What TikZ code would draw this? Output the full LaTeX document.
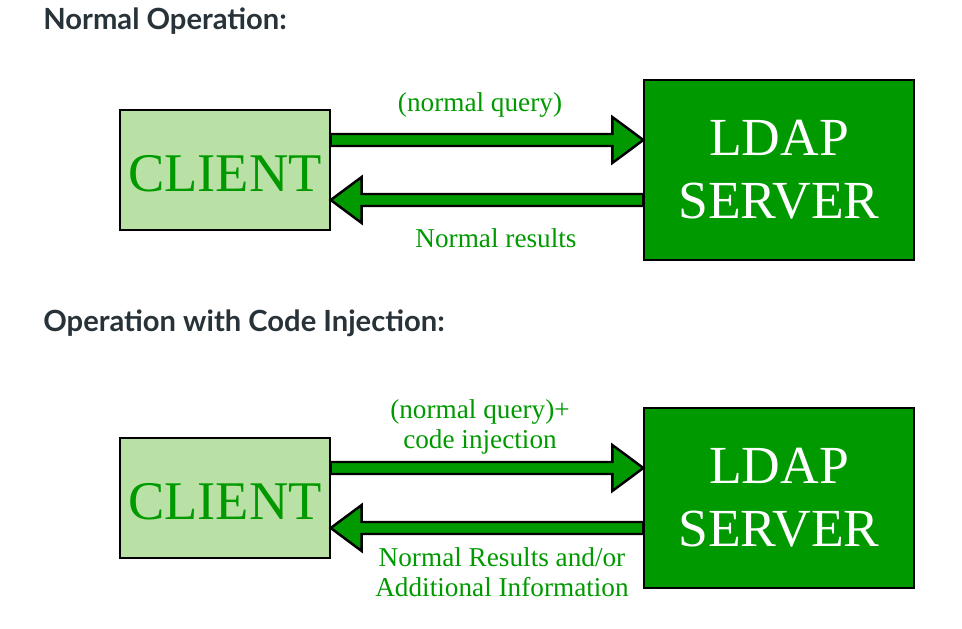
\documentclass[tikz,border=0pt]{standalone}
\usepackage{fontspec}
\setmainfont{Liberation Serif}
\newfontfamily\headfont{Lato}
\usepackage{xcolor}
\usepackage{tikz}
\usetikzlibrary{calc}
\definecolor{gfg}{HTML}{009900}
\definecolor{gfglight}{HTML}{B9E0A5}
\definecolor{headgray}{HTML}{273239}
% block arrow from #1 to #2 (both at the same height)
\newcommand{\fatarrow}[2]{%
  \coordinate (hb) at ($(#2)!0.62cm!(#1)$);
  \draw[fatarrow] ($(#1)+(0,-6)$) -- ($(hb)+(0,-6)$) -- ($(hb)+(0,-23)$) -- (#2)
    -- ($(hb)+(0,23)$) -- ($(hb)+(0,6)$) -- ($(#1)+(0,6)$) -- cycle;}

\begin{document}
\begin{tikzpicture}[x=0.02cm,y=-0.02cm,
    client/.style={rectangle,draw=black,line width=0.8pt,fill=gfglight,text=gfg,
                   minimum width=4.2cm,minimum height=2.4cm,inner sep=0pt,
                   text height=25pt,text depth=0pt,
                   font=\fontsize{31}{36}\selectfont},
    server/.style={rectangle,draw=black,line width=0.8pt,fill=gfg,text=white,
                   minimum width=5.4cm,minimum height=3.6cm,inner sep=0pt,align=center,
                   font=\fontsize{30.5}{36}\selectfont},
    fatarrow/.style={draw=black,line width=1.4pt,fill=gfg,line join=miter},
    lbl/.style={text=gfg,inner sep=0pt,align=center,font=\fontsize{15.5}{17}\selectfont},
    heading/.style={anchor=base west,text=headgray,inner sep=0pt,
                    font=\headfont\bfseries\fontsize{16.6}{19}\selectfont}
]
\useasboundingbox (0,0) rectangle (962,628);

% normal operation
\node[heading] (h1) at (43,30) {Normal Operation:};
\node[client] (c1) at (225,170) {CLIENT};
\node[server] (s1) at (779,170) {LDAP\\SERVER};

\path (c1.east) ++(0,-30) coordinate (q1a);
\coordinate (q1b) at (s1.west |- q1a);
\fatarrow{q1a}{q1b}
\path (c1.east) ++(0,30) coordinate (r1b);
\coordinate (r1a) at (s1.west |- r1b);
\fatarrow{r1a}{r1b}

\node[lbl,anchor=base] (l1) at (480,112) {(normal query)};
\node[lbl,anchor=base] (l2) at (496,247) {Normal results};

% operation with code injection
\node[heading] (h2) at (43,331) {Operation with Code Injection:};
\node[client] (c2) at (225,498) {CLIENT};
\node[server] (s2) at (779,498) {LDAP\\SERVER};

\path (c2.east) ++(0,-30) coordinate (q2a);
\coordinate (q2b) at (s2.west |- q2a);
\fatarrow{q2a}{q2b}
\path (c2.east) ++(0,30) coordinate (r2b);
\coordinate (r2a) at (s2.west |- r2b);
\fatarrow{r2a}{r2b}

\node[lbl] (l3) at (480,427) {(normal query)+\\code injection};
\node[lbl] (l4) at (502,572) {Normal Results and/or\\Additional Information};
\end{tikzpicture}
\end{document}
